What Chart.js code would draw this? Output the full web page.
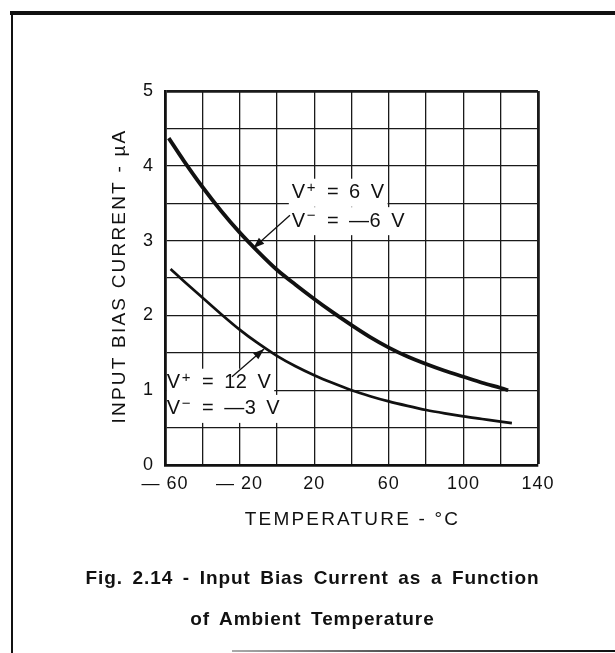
<!DOCTYPE html>
<html>
<head>
<meta charset="utf-8">
<script src="https://cdn.jsdelivr.net/npm/chart.js@4.4.0/dist/chart.umd.min.js"></script>
<style>
  html, body { margin: 0; padding: 0; background: #fff; }
  #page { position: relative; width: 615px; height: 653px; overflow: hidden; background: #fff; }
  #wrap { position: absolute; left: 0; top: 0; width: 615px; height: 545px; }
  .rule { position: absolute; background: #111; }
  .cap { position: absolute; left: 10px; width: 605px; text-align: center; color: #111;
         font: bold 19px "Liberation Sans", Arial, sans-serif; letter-spacing: 0.9px; word-spacing: 3.5px; }
</style>
</head>
<body>
<div id="page">
  <div id="wrap"><canvas id="chart"></canvas></div>
  <div class="rule" style="left:10px;top:11px;width:605px;height:4px"></div>
  <div class="rule" style="left:11px;top:13px;width:2px;height:640px"></div>
  <div class="rule" style="left:232px;top:650px;width:383px;height:2px;background:linear-gradient(to right,#aaa,#555 40%,#111)"></div>
  <div class="cap" style="top:567px">Fig. 2.14 - Input Bias Current as a Function</div>
  <div class="cap" style="top:608px">of Ambient Temperature</div>
</div>
<script>
// values (temperature in °C, current in µA)
var tempsA = [-58, -50, -40, -30, -20, -10, 0, 10, 20, 30, 40, 50, 60, 70, 80, 90, 100, 110, 120, 124];
var biasA = [4.37, 4.07, 3.72, 3.40, 3.11, 2.85, 2.61, 2.41, 2.22, 2.04, 1.87, 1.71, 1.57, 1.45, 1.35, 1.26, 1.18, 1.10, 1.03, 1.00];
var tempsB = [-57, -50, -40, -30, -20, -10, 0, 10, 20, 30, 40, 50, 60, 70, 80, 90, 100, 110, 120, 126];
var biasB = [2.62, 2.46, 2.24, 2.02, 1.81, 1.625, 1.46, 1.32, 1.20, 1.095, 1.00, 0.92, 0.85, 0.79, 0.735, 0.69, 0.65, 0.615, 0.58, 0.56];
var labelA = ["V⁺ = 6 V", "V⁻ = —6 V"];
var labelB = ["V⁺ = 12 V", "V⁻ = —3 V"];
var xTickLabels = [-60, -20, 20, 60, 100, 140];
var yTickLabels = [0, 1, 2, 3, 4, 5];
var xTitle = 'TEMPERATURE - °C';
var yTitle = 'INPUT BIAS CURRENT - µA';

var FONT = '"Liberation Sans", Arial, sans-serif';
Chart.defaults.font.family = FONT;
Chart.defaults.color = '#111';

// where the curve labels sit, in data units
var notes = [
  { text: labelA, x: 8, y: [3.64, 3.26], from: [7, 3.34], to: [-12.6, 2.90] },
  { text: labelB, x: -59, y: [1.10, 0.75], from: [-24.1, 1.18], to: [-6.9, 1.55] }
];

function pts(xs, ys) {
  return xs.map(function (x, i) { return { x: x, y: ys[i] }; });
}

function spacing(ctx, ls) {
  ctx.letterSpacing = ls;
}

// draws text word by word, ⁺ / ⁻ as a raised smaller sign; returns the width
function richText(ctx, t, x, y, draw) {
  var start = x, gap = 10;
  t.split(' ').forEach(function (word, wi) {
    if (wi > 0) x += gap;
    word.split(/([⁺⁻])/).forEach(function (p) {
      if (!p) return;
      var sup = p === '⁺' || p === '⁻';
      var s = sup ? (p === '⁺' ? '+' : '−') : p;
      ctx.font = (sup ? '15px ' : '20px ') + FONT;
      spacing(ctx, '0.5px');
      if (draw) ctx.fillText(s, sup ? x + 1 : x, sup ? y - 5 : y);
      x += ctx.measureText(s).width + (sup ? 2 : 0);
    });
  });
  return x - start;
}

var notesPlugin = {
  id: 'notes',
  beforeDraw: function (chart) {
    spacing(chart.ctx, '1px');
  },
  beforeDatasetsDraw: function (chart) {
    var ctx = chart.ctx, sx = chart.scales.x, sy = chart.scales.y;
    ctx.save();
    ctx.fillStyle = '#fff';
    notes.forEach(function (n) {
      var x = sx.getPixelForValue(n.x);
      n.text.forEach(function (t, i) {
        var y = sy.getPixelForValue(n.y[i]);
        var w = richText(ctx, t, x, y, false);
        var left = Math.max(x - 3, chart.chartArea.left + 2);
        ctx.fillRect(left, y - 14, x + w + 3 - left, 28);
      });
    });
    ctx.restore();
  },
  afterDatasetsDraw: function (chart) {
    var ctx = chart.ctx, sx = chart.scales.x, sy = chart.scales.y;
    ctx.save();
    ctx.fillStyle = '#111';
    ctx.strokeStyle = '#111';
    ctx.textBaseline = 'middle';
    ctx.textAlign = 'left';
    notes.forEach(function (n) {
      var x = sx.getPixelForValue(n.x);
      n.text.forEach(function (t, i) {
        richText(ctx, t, x, sy.getPixelForValue(n.y[i]), true);
      });
      // leader line with arrow head on the curve
      var x1 = sx.getPixelForValue(n.from[0]), y1 = sy.getPixelForValue(n.from[1]);
      var x2 = sx.getPixelForValue(n.to[0]), y2 = sy.getPixelForValue(n.to[1]);
      var a = Math.atan2(y2 - y1, x2 - x1);
      ctx.lineWidth = 1.3;
      ctx.beginPath();
      ctx.moveTo(x1, y1);
      ctx.lineTo(x2, y2);
      ctx.stroke();
      var L = 11, W = 4;
      var bx = x2 - L * Math.cos(a), by = y2 - L * Math.sin(a);
      ctx.beginPath();
      ctx.moveTo(x2, y2);
      ctx.lineTo(bx - W * Math.sin(a), by + W * Math.cos(a));
      ctx.lineTo(bx + W * Math.sin(a), by - W * Math.cos(a));
      ctx.closePath();
      ctx.fill();
    });
    ctx.restore();
  },
  afterDraw: function (chart) {
    // axis titles, drawn here so they can get their own letter spacing
    var ctx = chart.ctx, a = chart.chartArea;
    ctx.save();
    ctx.font = '19px ' + FONT;
    spacing(ctx, '2.2px');
    ctx.fillStyle = '#111';
    ctx.textAlign = 'center';
    ctx.textBaseline = 'middle';
    ctx.fillText(xTitle, (a.left + a.right) / 2 + 1, 520);
    ctx.translate(120, (a.top + a.bottom) / 2 - 2);
    ctx.rotate(-Math.PI / 2);
    ctx.fillText(yTitle, 0, 0);
    ctx.restore();
  }
};

function fmtTemp(v) {
  return v < 0 ? '— ' + (-v) : String(v);
}

new Chart(document.getElementById('chart'), {
  type: 'line',
  data: {
    datasets: [
      { data: pts(tempsA, biasA), borderColor: '#111', borderWidth: 3.8, pointRadius: 0,
        cubicInterpolationMode: 'monotone', fill: false },
      { data: pts(tempsB, biasB), borderColor: '#111', borderWidth: 2.7, pointRadius: 0,
        cubicInterpolationMode: 'monotone', fill: false }
    ]
  },
  options: {
    responsive: true,
    maintainAspectRatio: false,
    animation: false,
    layout: { padding: { left: 108, top: 91, right: 77, bottom: 0 } },
    scales: {
      x: {
        type: 'linear',
        min: -60,
        max: 140,
        afterFit: function (s) { s.height = 80; },
        ticks: {
          stepSize: 20,
          autoSkip: false,
          maxRotation: 0,
          padding: 8,
          font: { size: 18 },
          callback: function (v) { return xTickLabels.indexOf(v) >= 0 ? fmtTemp(v) : ''; }
        },
        grid: {
          color: '#1a1a1a',
          drawTicks: false,
          lineWidth: function (c) { return c.tick && c.tick.value === 140 ? 2.8 : 1.3; }
        },
        border: { display: true, color: '#111', width: 2.8 }
      },
      y: {
        min: 0,
        max: 5,
        afterFit: function (s) { s.width = 57; },
        ticks: {
          stepSize: 0.5,
          padding: 11,
          font: { size: 18 },
          callback: function (v) { return yTickLabels.indexOf(v) >= 0 ? String(v) : ''; }
        },
        grid: {
          color: '#1a1a1a',
          drawTicks: false,
          lineWidth: function (c) { return c.tick && c.tick.value === 5 ? 2.8 : 1.3; }
        },
        border: { display: true, color: '#111', width: 2.8 }
      }
    },
    plugins: {
      legend: { display: false },
      tooltip: { enabled: false }
    }
  },
  plugins: [notesPlugin]
});
</script>
</body>
</html>
